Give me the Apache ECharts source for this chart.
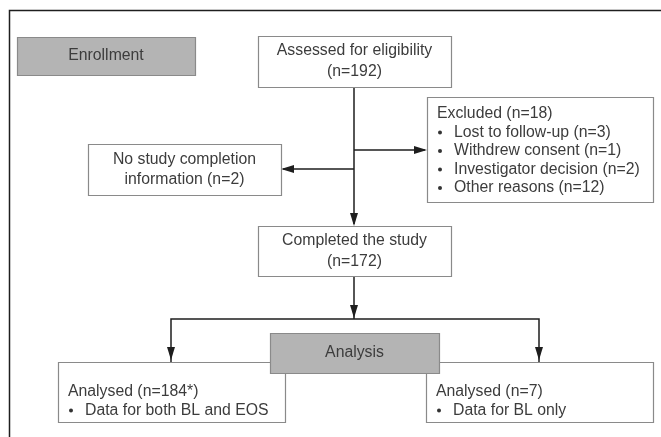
<!DOCTYPE html>
<html><head><meta charset="utf-8">
<script src="https://cdn.jsdelivr.net/npm/echarts@6/dist/echarts.min.js"></script>
<style>html,body{margin:0;padding:0;background:#fff}#c{width:661px;height:437px}</style>
</head><body><div id="c"></div>
<script>
// ---- content (text only) ----
var enrollmentText = ["Enrollment"];
var assessedText = ["Assessed for eligibility", "(n=192)"];
var excludedTitle = "Excluded (n=18)";
var excludedItems = ["Lost to follow-up (n=3)", "Withdrew consent (n=1)", "Investigator decision (n=2)", "Other reasons (n=12)"];
var noStudyText = ["No study completion", "information (n=2)"];
var completedText = ["Completed the study", "(n=172)"];
var analysisText = ["Analysis"];
var analysedLeftTitle = "Analysed (n=184*)";
var analysedLeftItems = ["Data for both BL and EOS"];
var analysedRightTitle = "Analysed (n=7)";
var analysedRightItems = ["Data for BL only"];

// ---- layout ----
var layout = {
  enrollment: {x:17,y:37,w:178,h:38,fill:'#b4b4b4'},
  assessed: {x:258,y:36,w:193,h:51},
  excluded: {x:427,y:97,w:226,h:105},
  noStudy: {x:88,y:144,w:193,h:51},
  completed: {x:258,y:226,w:193,h:50},
  analysedL: {x:58,y:362,w:227,h:60},
  analysedR: {x:426,y:362,w:227,h:60},
  analysis: {x:270,y:333,w:169,h:40,fill:'#b4b4b4'}
};
var FONT = '15.8px "Liberation Sans", Arial, sans-serif';
var TXT = '#3c3c3c';
var BORDER = '#8a8a8a';
var LINE = '#1e1e1e';

var els = [];
function box(b) {
  els.push({type:'rect', shape:{x:b.x+0.5,y:b.y+0.5,width:b.w,height:b.h},
    style:{fill:b.fill||'#fff', stroke:BORDER, lineWidth:1.2}});
}
function centerText(b, lines, gap) {
  var n = lines.length; gap = gap || 20;
  var cy = b.y + b.h/2;
  lines.forEach(function(t,i){
    els.push({type:'text', style:{x:b.x+b.w/2, y:cy + (i-(n-1)/2)*gap, text:t, font:FONT, fill:TXT, align:'center', verticalAlign:'middle'}});
  });
}
function listText(b, title, items, x0, y0, gap) {
  els.push({type:'text', style:{x:x0, y:y0, text:title, font:FONT, fill:TXT, align:'left', verticalAlign:'middle'}});
  items.forEach(function(t,i){
    var y = y0 + (i+1)*gap;
    els.push({type:'circle', shape:{cx:x0+3, cy:y, r:2}, style:{fill:'#333'}});
    els.push({type:'text', style:{x:x0+17, y:y, text:t, font:FONT, fill:TXT, align:'left', verticalAlign:'middle'}});
  });
}
function line(pts) {
  els.push({type:'polyline', shape:{points:pts}, style:{stroke:LINE, lineWidth:1.5, fill:null}});
}
function arrow(x, y, dir) { // tip at x,y
  var L = 13, W = 4, p;
  if (dir==='down') p=[[x,y],[x-W,y-L],[x+W,y-L]];
  if (dir==='right') p=[[x,y],[x-L,y-W],[x-L,y+W]];
  if (dir==='left') p=[[x,y],[x+L,y-W],[x+L,y+W]];
  els.push({type:'polygon', shape:{points:p}, style:{fill:LINE}});
}

// frame
line([[9.5,437],[9.5,10.5],[661,10.5]]);

// connectors
line([[354,87],[354,224]]); arrow(354,226,'down');
line([[354,150],[425,150]]); arrow(427,150,'right');
line([[354,169],[283,169]]); arrow(281,169,'left');
line([[354,276],[354,319]]); arrow(354,318,'down');
line([[171,362],[171,319],[539,319],[539,362]]);
arrow(171,360,'down'); arrow(539,360,'down');

box(layout.enrollment); centerText(layout.enrollment, enrollmentText);
box(layout.assessed); centerText(layout.assessed, assessedText, 21);
box(layout.excluded); listText(layout.excluded, excludedTitle, excludedItems, 437, 114, 18.5);
box(layout.noStudy); centerText(layout.noStudy, noStudyText, 20);
box(layout.completed); centerText(layout.completed, completedText, 21);
box(layout.analysedL); listText(layout.analysedL, analysedLeftTitle, analysedLeftItems, 68, 392, 18.5);
box(layout.analysedR); listText(layout.analysedR, analysedRightTitle, analysedRightItems, 436, 392, 18.5);
box(layout.analysis); centerText(layout.analysis, analysisText);

var chart = echarts.init(document.getElementById('c'), null, {renderer:'canvas'});
chart.setOption({animation:false, graphic:{elements:els}});
</script></body></html>
